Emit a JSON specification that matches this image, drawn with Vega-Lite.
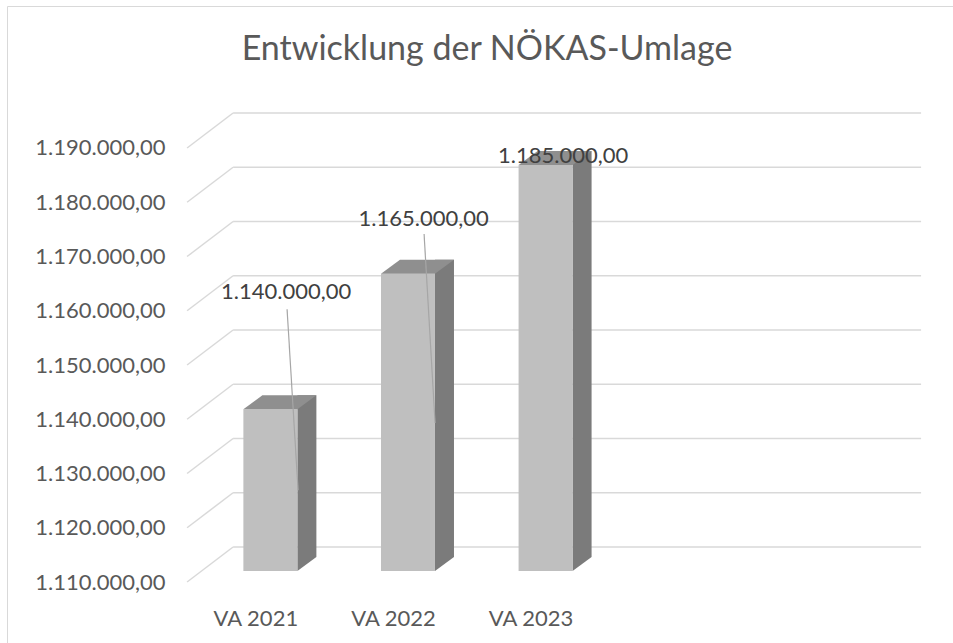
{
  "$schema": "https://vega.github.io/schema/vega-lite/v6.json",
  "width": 946,
  "height": 637,
  "autosize": {"type": "none"},
  "padding": {"left": 7, "top": 6, "right": 0, "bottom": 0},
  "background": "white",
  "config": {
    "view": {"stroke": "#d9d9d9", "strokeWidth": 1},
    "font": "Lato",
    "locale": {"number": {"decimal": ",", "thousands": ".", "grouping": [3], "currency": ["", " €"]}}
  },
  "title": {
    "text": "Entwicklung der NÖKAS-Umlage",
    "font": "Lato",
    "fontSize": 34,
    "fontWeight": "normal",
    "color": "#595959",
    "anchor": "middle",
    "frame": "group",
    "baseline": "alphabetic",
    "offset": -88,
    "dx": 7
  },
  "datasets": {
    "bars": [
      {"cat": "VA 2021", "v": 1140000},
      {"cat": "VA 2022", "v": 1165000},
      {"cat": "VA 2023", "v": 1185000}
    ],
    "grid": [
      {"v": 1110000}, {"v": 1120000}, {"v": 1130000}, {"v": 1140000}, {"v": 1150000},
      {"v": 1160000}, {"v": 1170000}, {"v": 1180000}, {"v": 1190000}
    ]
  },
  "layer": [
    {
      "data": {"name": "grid"},
      "mark": {"type": "rule", "color": "#d9d9d9", "strokeWidth": 1.5, "x2Offset": 46, "y2Offset": -35},
      "encoding": {
        "x": {
          "datum": "VA 2021", "type": "nominal", "bandPosition": 0,
          "scale": {"domain": ["VA 2021", "VA 2022", "VA 2023", " ", "  "], "paddingInner": 0, "paddingOuter": 0.9375, "align": 0.698},
          "axis": {"orient": "bottom", "offset": -55, "title": null, "domain": false, "ticks": false, "tickSize": 0, "labelPadding": 30, "labelBaseline": "middle", "labelFont": "Lato", "labelFontSize": 22, "labelColor": "#595959", "labelAngle": 0, "grid": false}
        },
        "x2": {"datum": "VA 2021", "bandPosition": 0},
        "y": {
          "field": "v", "type": "quantitative",
          "scale": {"domain": [1098756, 1216175], "nice": false, "zero": false},
          "axis": {"orient": "left", "offset": -180, "title": null, "domain": false, "ticks": false, "tickSize": 0, "grid": false, "labelPadding": 22, "labelFont": "Lato", "labelFontSize": 22, "labelColor": "#595959", "format": ",.2f", "values": [1110000, 1120000, 1130000, 1140000, 1150000, 1160000, 1170000, 1180000, 1190000]}
        },
        "y2": {"field": "v"}
      }
    },
    {
      "data": {"name": "grid"},
      "mark": {"type": "rule", "color": "#d9d9d9", "strokeWidth": 1.5, "xOffset": 46, "x2Offset": 46, "yOffset": -35},
      "encoding": {
        "x": {"datum": "VA 2021", "type": "nominal", "bandPosition": 0},
        "x2": {"datum": "  ", "bandPosition": 1},
        "y": {"field": "v", "type": "quantitative"}
      }
    },
    {
      "data": {"name": "bars"},
      "layer": [
        {
          "mark": {"type": "bar", "color": "#7b7b7b", "width": 19, "xOffset": 51, "yOffset": -24, "y2Offset": -25},
          "encoding": {
            "x": {"field": "cat", "type": "nominal"},
            "y": {"field": "v", "type": "quantitative"},
            "y2": {"datum": 1110000}
          }
        },
        {
          "mark": {"type": "point", "shape": "M0,0 L0,-14 L19,-14 Z", "size": 4, "filled": true, "color": "#7b7b7b", "opacity": 1, "strokeWidth": 0, "xOffset": 41.5, "yOffset": -11},
          "encoding": {
            "x": {"field": "cat", "type": "nominal"},
            "y": {"datum": 1110000, "type": "quantitative"}
          }
        },
        {
          "mark": {"type": "bar", "color": "#bfbfbf", "width": 54, "xOffset": 14.5, "yOffset": -10, "y2Offset": -11},
          "encoding": {
            "x": {"field": "cat", "type": "nominal"},
            "y": {"field": "v", "type": "quantitative"},
            "y2": {"datum": 1110000}
          }
        },
        {
          "mark": {"type": "point", "shape": "M-27,0 L27,0 L46,-14 L-8,-14 Z", "size": 4, "filled": true, "color": "#8f8f8f", "opacity": 1, "strokeWidth": 0, "xOffset": 14.5, "yOffset": -10},
          "encoding": {
            "x": {"field": "cat", "type": "nominal"},
            "y": {"field": "v", "type": "quantitative"}
          }
        },
        {
          "transform": [{"filter": "datum.cat === 'VA 2021'"}],
          "layer": [
            {
              "mark": {"type": "rule", "color": "#a6a6a6", "strokeWidth": 1.2, "xOffset": 31.2, "yOffset": -110, "x2Offset": 42.2, "y2Offset": 71},
              "encoding": {
                "x": {"field": "cat", "type": "nominal"},
                "x2": {"field": "cat"},
                "y": {"field": "v", "type": "quantitative"},
                "y2": {"field": "v"}
              }
            },
            {
              "mark": {"type": "text", "font": "Lato", "fontSize": 22, "color": "#404040", "align": "center", "baseline": "middle", "xOffset": 30.2, "yOffset": -127},
              "encoding": {
                "x": {"field": "cat", "type": "nominal"},
                "y": {"field": "v", "type": "quantitative"},
                "text": {"field": "v", "type": "quantitative", "format": ",.2f"}
              }
            }
          ]
        },
        {
          "transform": [{"filter": "datum.cat === 'VA 2022'"}],
          "layer": [
            {
              "mark": {"type": "rule", "color": "#a6a6a6", "strokeWidth": 1.2, "xOffset": 30.6, "yOffset": -49.6, "x2Offset": 41.6, "y2Offset": 139.4},
              "encoding": {
                "x": {"field": "cat", "type": "nominal"},
                "x2": {"field": "cat"},
                "y": {"field": "v", "type": "quantitative"},
                "y2": {"field": "v"}
              }
            },
            {
              "mark": {"type": "text", "font": "Lato", "fontSize": 22, "color": "#404040", "align": "center", "baseline": "middle", "xOffset": 30.1, "yOffset": -64.6},
              "encoding": {
                "x": {"field": "cat", "type": "nominal"},
                "y": {"field": "v", "type": "quantitative"},
                "text": {"field": "v", "type": "quantitative", "format": ",.2f"}
              }
            }
          ]
        },
        {
          "transform": [{"filter": "datum.cat === 'VA 2023'"}],
          "mark": {"type": "text", "font": "Lato", "fontSize": 22, "color": "#404040", "align": "center", "baseline": "middle", "xOffset": 32, "yOffset": -19},
          "encoding": {
            "x": {"field": "cat", "type": "nominal"},
            "y": {"field": "v", "type": "quantitative"},
            "text": {"field": "v", "type": "quantitative", "format": ",.2f"}
          }
        }
      ]
    }
  ]
}
